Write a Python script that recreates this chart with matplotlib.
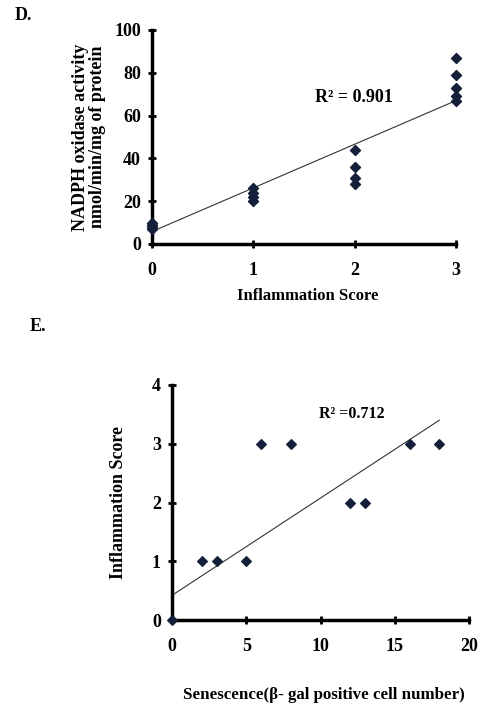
import numpy as np
import matplotlib.pyplot as plt

plt.rcParams['font.family'] = ['Liberation Serif', 'DejaVu Serif']
plt.rcParams['font.weight'] = 'bold'

# panel D data
d_score = [0, 0, 0, 0, 1, 1, 1, 1, 2, 2, 2, 2, 3, 3, 3, 3, 3]
d_nadph = [7, 8, 9, 10, 20, 22, 24, 26, 28, 31, 36, 44, 67, 69, 73, 79, 87]
d_fit = [20.4, 5.8]   # slope, intercept
d_r2 = "R\u00b2 = 0.901"

# panel E data
e_sen = [0, 2, 3, 5, 6, 8, 12, 13, 16, 18]
e_score = [0, 1, 1, 1, 3, 3, 2, 2, 3, 3]
e_fit = [0.1656, 0.42]
e_r2 = "R\u00b2 =0.712"

mk = '#14203a'

fig = plt.figure(figsize=(4.83, 7.09), dpi=100)

def style(ax):
    for s in ['top', 'right']:
        ax.spines[s].set_visible(False)
    for s in ['left', 'bottom']:
        ax.spines[s].set_linewidth(2.5)
    ax.tick_params(direction='inout', length=6, width=2, labelsize=13)
    ax.tick_params(axis='x', pad=10)
    ax.tick_params(axis='y', pad=5)
    for lab in ax.get_xticklabels() + ax.get_yticklabels():
        lab.set_fontweight('bold')

# D
ax1 = fig.add_axes([0.3147, 0.6559, 0.6294, 0.3018])
xs = np.array([0, 3])
ax1.plot(xs, d_fit[0] * xs + d_fit[1], color='#333333', lw=0.8, clip_on=False)
ax1.scatter(d_score, d_nadph, marker='D', s=26, color=mk, zorder=3, clip_on=False)
ax1.set_xlim(0, 3)
ax1.set_ylim(0, 100)
ax1.set_xticks([0, 1, 2, 3])
ax1.set_yticks([0, 20, 40, 60, 80, 100])
style(ax1)
ax1.text(1.61, 68.5, d_r2, fontsize=13, fontweight='bold', va='center')
ax1.set_ylabel("NADPH oxidase activity\nnmol/min/mg of protein", fontsize=13,
               fontweight='bold', linespacing=0.95, labelpad=6)
fig.text(0.637, 1 - 296 / 709, "Inflammation Score", ha='center', va='center',
         fontsize=12, fontweight='bold')
fig.text(0.03, 1 - 16 / 709, "D.", fontsize=13, fontweight='bold', va='center')

# E
ax2 = fig.add_axes([0.3561, 0.1255, 0.615, 0.3315])
xs = np.array([0, 18])
ax2.plot(xs, e_fit[0] * xs + e_fit[1], color='#333333', lw=0.8, clip_on=False)
ax2.scatter(e_sen, e_score, marker='D', s=24, color=mk, zorder=3, clip_on=False)
ax2.set_xlim(0, 20)
ax2.set_ylim(0, 4)
ax2.set_xticks([0, 5, 10, 15, 20])
ax2.set_yticks([0, 1, 2, 3, 4])
style(ax2)
ax2.text(9.9, 3.5, e_r2, fontsize=11.5, fontweight='bold', va='center')
ax2.set_ylabel("Inflammation Score", fontsize=13, fontweight='bold', labelpad=18)
fig.text(0.67, 1 - 695 / 709, "Senescence(\u03b2- gal positive cell number)",
         ha='center', va='center', fontsize=12.2, fontweight='bold')
fig.text(0.062, 1 - 327 / 709, "E.", fontsize=13, fontweight='bold', va='center')

fig.savefig('out.png', dpi=100)
